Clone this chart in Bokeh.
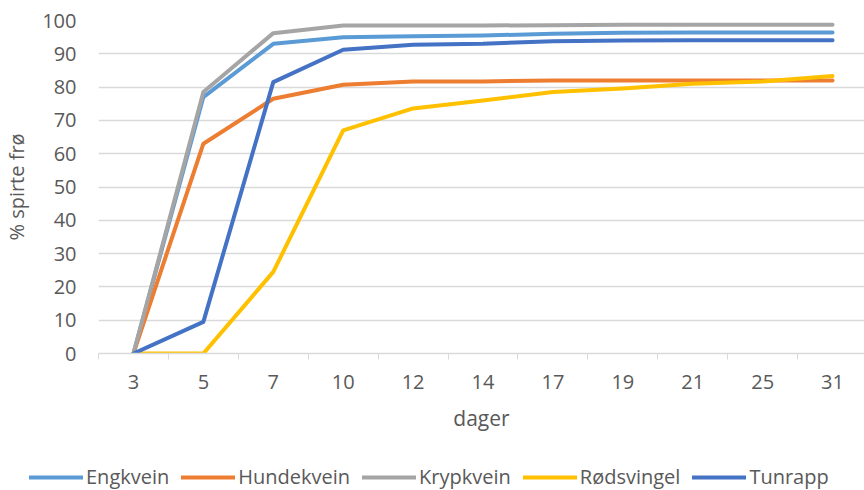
from bokeh.plotting import figure
from bokeh.models import Range1d, FixedTicker, Legend, LegendItem, ColumnDataSource
from bokeh.embed import file_html
from bokeh.resources import INLINE

days = ["3", "5", "7", "10", "12", "14", "17", "19", "21", "25", "31"]
engkvein = [0, 77, 93, 95, 95.3, 95.5, 96, 96.3, 96.4, 96.4, 96.4]
hundekvein = [0, 63, 76.5, 80.7, 81.7, 81.7, 82, 82, 82, 82, 82]
krypkvein = [0, 78.5, 96.2, 98.5, 98.5, 98.5, 98.6, 98.7, 98.7, 98.7, 98.7]
rodsvingel = [0, 0, 24.5, 67, 73.6, 76, 78.5, 79.6, 81, 81.7, 83.3]
tunrapp = [0, 9.5, 81.5, 91.2, 92.7, 93, 93.8, 94, 94.1, 94.1, 94.1]

series_names = ["Engkvein", "Hundekvein", "Krypkvein", "Rødsvingel", "Tunrapp"]
series_values = [engkvein, hundekvein, krypkvein, rodsvingel, tunrapp]
colors = ["#5B9BD5", "#ED7D31", "#A5A5A5", "#FFC000", "#4472C4"]
y_ticks = list(range(0, 101, 10))

FONT = "Open Sans"
TXT = "#595959"

idx = list(range(len(days)))

p = figure(width=864, height=445, output_backend="svg", toolbar_location=None,
           x_range=Range1d(-0.5, 10.457), y_range=Range1d(0, 100),
           min_border_left=97, min_border_right=0, min_border_top=20,
           min_border_bottom=92)
p.outline_line_color = None
p.background_fill_color = "white"
p.border_fill_color = "white"

for name, vals, col in zip(series_names, series_values, colors):
    src = ColumnDataSource(dict(x=idx, y=vals))
    p.line("x", "y", source=src, line_color=col, line_width=4,
           line_cap="round", line_join="round")

# x axis
xa = p.xaxis[0]
xa.ticker = FixedTicker(ticks=idx, minor_ticks=[i - 0.5 for i in range(len(days) + 1)])
xa.major_label_overrides = {i: d for i, d in enumerate(days)}
xa.major_tick_out = 0
xa.major_tick_in = 0
xa.minor_tick_out = 6
xa.minor_tick_in = 0
xa.minor_tick_line_color = "#D9D9D9"
xa.axis_line_color = "#D9D9D9"
xa.axis_line_width = 1.5
xa.major_label_text_font = FONT
xa.major_label_text_font_size = "20px"
xa.major_label_text_color = TXT
xa.major_label_standoff = 15
xa.axis_label = "dager"
xa.axis_label_text_font = FONT
xa.axis_label_text_font_size = "21px"
xa.axis_label_text_font_style = "normal"
xa.axis_label_text_color = TXT
xa.axis_label_standoff = 12

# y axis
ya = p.yaxis[0]
ya.ticker = FixedTicker(ticks=y_ticks)
ya.axis_line_color = None
ya.major_tick_line_color = None
ya.minor_tick_line_color = None
ya.major_tick_out = 0
ya.major_tick_in = 0
ya.minor_tick_out = 0
ya.minor_tick_in = 0
ya.major_label_text_font = FONT
ya.major_label_text_font_size = "20px"
ya.major_label_text_color = TXT
ya.major_label_standoff = 22
ya.axis_label = "% spirte frø"
ya.axis_label_text_font = FONT
ya.axis_label_text_font_size = "20px"
ya.axis_label_text_font_style = "normal"
ya.axis_label_text_color = TXT
ya.axis_label_standoff = 9

p.xgrid.grid_line_color = None
p.ygrid.ticker = FixedTicker(ticks=y_ticks)
p.ygrid.grid_line_color = "#D9D9D9"
p.ygrid.grid_line_width = 1.5

# legend strip below the chart
lg = figure(width=864, height=45, output_backend="svg", toolbar_location=None,
            x_range=Range1d(0, 1), y_range=Range1d(0, 1),
            x_axis_type=None, y_axis_type=None,
            min_border_left=0, min_border_right=0, min_border_top=0,
            min_border_bottom=0)
lg.outline_line_color = None
lg.border_fill_color = "white"
lg.xgrid.visible = False
lg.ygrid.visible = False
nan = float("nan")
items = []
for name, col in zip(series_names, colors):
    r = lg.line(x=[nan, nan], y=[nan, nan], line_color=col, line_width=4,
                line_cap="round")
    items.append(LegendItem(label=name, renderers=[r]))

legend = Legend(items=items, orientation="horizontal", location=(29, 0),
                glyph_width=54, glyph_height=16, label_height=16,
                label_standoff=3, spacing=12, padding=0, margin=0,
                border_line_color=None, background_fill_alpha=0,
                label_text_font=FONT, label_text_font_size="20px",
                label_text_color=TXT)
lg.add_layout(legend, "center")

open("out.html", "w").write(file_html([p, lg], INLINE))
